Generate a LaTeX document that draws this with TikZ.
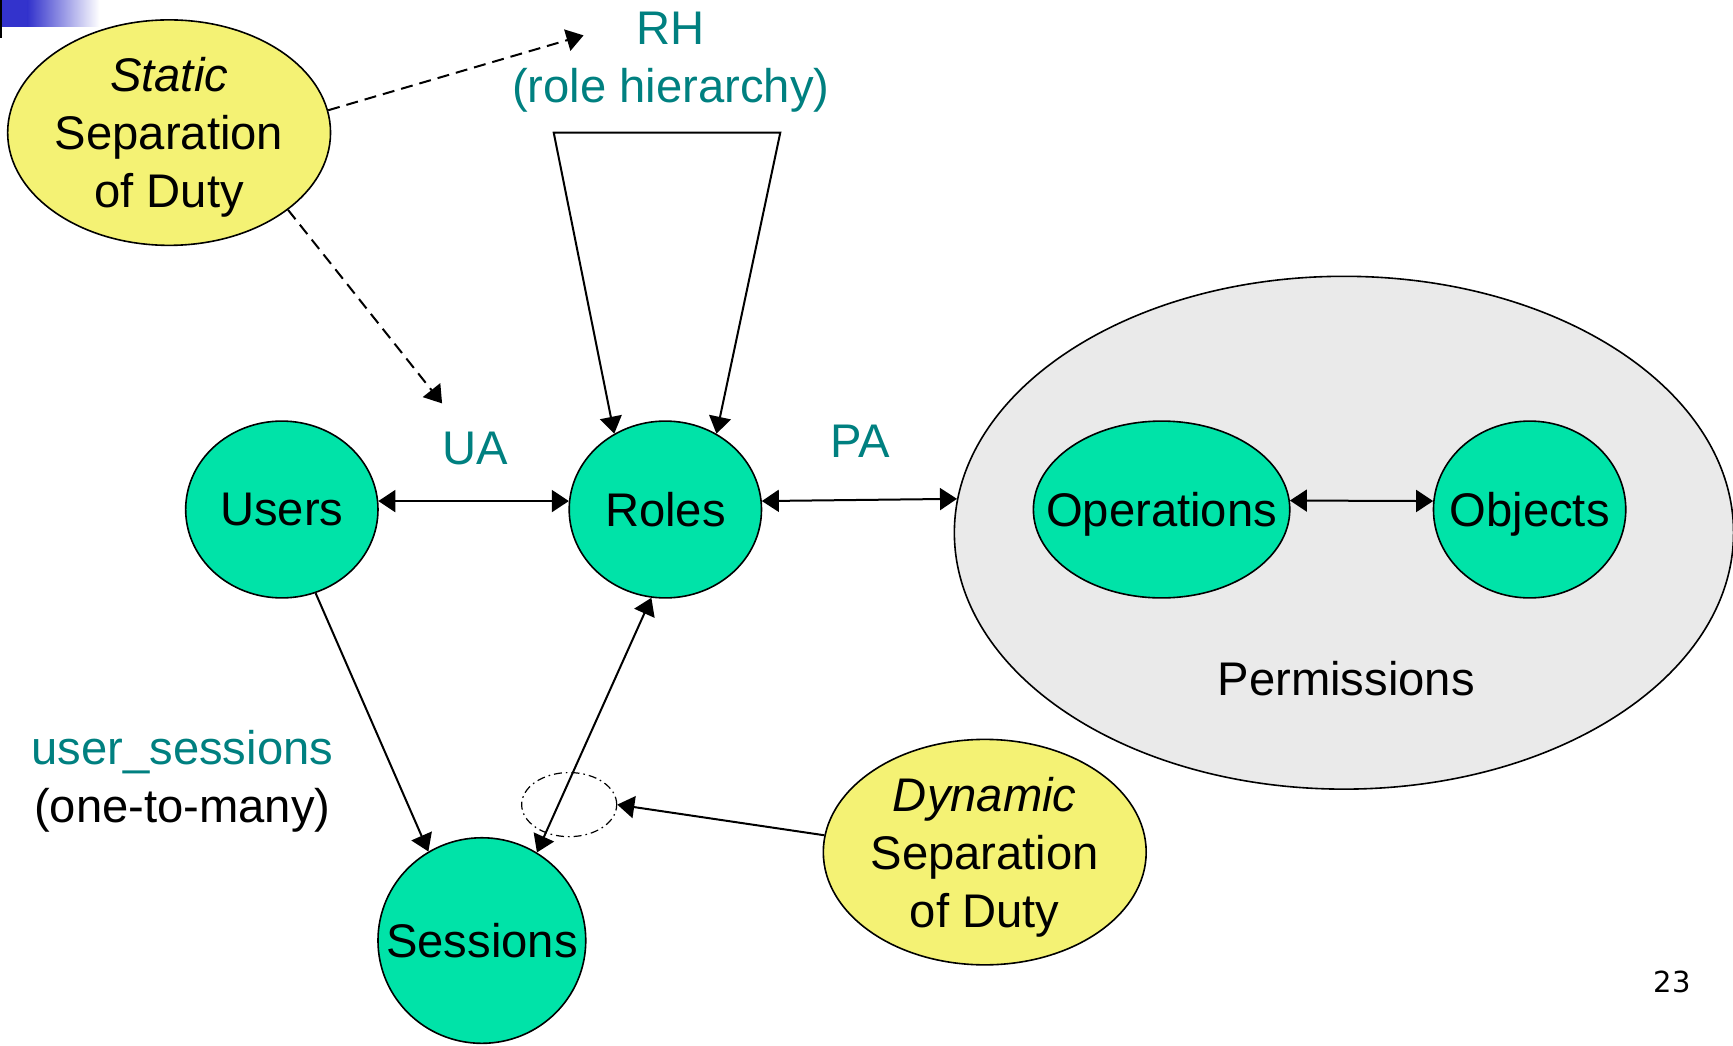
\documentclass[tikz,border=0pt]{standalone}
\usepackage{fontspec}
\setmainfont{Liberation Sans}
\newfontfamily\numfont{DejaVu Sans}
\usetikzlibrary{arrows.meta,shapes.geometric}
\tikzset{>={Triangle[width=11pt,length=8.5pt]}}
\definecolor{labelteal}{HTML}{008080}
\definecolor{rolegreen}{HTML}{00E3A8}
\definecolor{sodyellow}{HTML}{F4F274}
\definecolor{permgray}{HTML}{EAEAEA}
\definecolor{barblue}{HTML}{3333CC}
\newcommand{\TEAL}[1]{\textcolor{labelteal}{#1}}
\newcommand{\slidefont}{\fontsize{23.6}{29}\selectfont}
\tikzset{
  entity/.style={ellipse, draw, line width=0.8pt, fill=rolegreen, inner sep=0pt},
  sodbox/.style={ellipse, draw, line width=0.8pt, fill=sodyellow, inner sep=0pt,
                 align=center, text depth=0pt},
  every label/.append style={text depth=0pt},
  link/.style={line width=1pt},
  hint/.style={line width=1pt, dash pattern=on 6pt off 3.5pt},
}

\begin{document}
\begin{tikzpicture}[x=0.5526pt, y=-0.5526pt, font=\slidefont]

  \newcommand\U{0.5526pt}

  \useasboundingbox (0,0) rectangle (1568,946);

  %% slide corner
  \fill[barblue] (0,0) rectangle (25,24);
  \shade[left color=barblue, right color=white] (25,0) rectangle (90,24);
  \draw[line width=1pt] (0.8,0) -- (0.8,34);

  %% permissions
  \node[ellipse, draw, line width=0.8pt, fill=permgray,
        minimum width=705*\U, minimum height=464*\U] (perm) at (1216,482) {};
  \node (permlabel) at (1218,614) {Permissions};

  \node[entity, minimum width=174*\U, minimum height=160*\U,
        label=center:Users] (users) at (255,461) {};
  \node[entity, minimum width=174*\U, minimum height=160*\U,
        label=center:Roles] (roles) at (602,461) {};
  \node[entity, minimum width=188*\U, minimum height=186*\U,
        label=center:Sessions] (sessions) at (436,851) {};
  \node[entity, minimum width=232*\U, minimum height=160*\U,
        label=center:Operations] (ops) at (1051,461) {};
  \node[entity, minimum width=174*\U, minimum height=160*\U,
        label=center:Objects] (objs) at (1384,461) {};

  \node[sodbox, minimum width=290*\U, minimum height=204*\U] (ssd)
  at (153,120) {\textit{Static}\\Separation\\of Duty};
  \node[sodbox, minimum width=290*\U, minimum height=204*\U] (dsd)
  at (891,771) {\textit{Dynamic}\\Separation\\of Duty};

  \node[ellipse, draw, line width=0.6pt, inner sep=0pt,
        dash pattern=on 4pt off 2pt on 0.8pt off 2pt,
        minimum width=86*\U, minimum height=58*\U] (sel) at (515,728) {};

  %% labels
  \node[text=labelteal, align=center] (rh) at (607,56) {RH\\(role hierarchy)};
  \node[text=labelteal] (ua) at (430,406) {UA};
  \node[text=labelteal] (pa) at (778,399) {PA};
  \node[align=center] (usess) at (165,707) {\TEAL{user\_sessions}\\(one-to-many)};
  \node[font=\numfont\fontsize{14.5}{17}\selectfont] (pagenum) at (1513,888) {23};

  %% relations
  \draw[link,<->] (users.5) -- (roles.175);
  \draw[link,<->] (roles.5) -- (perm.175);
  \draw[link,<->] (ops.4) -- (objs.175);
  \draw[link,->] (users.-68) -- (sessions.121);
  \draw[link,<->] (sessions.58) -- (roles.-99);
  \draw[link,->] (dsd.174) -- (sel.east);

  \coordinate (rhleft) at (501,120);
  \coordinate (rhright) at (706,120);
  \draw[link,<->] (roles.124) -- (rhleft) -- (rhright) -- (roles.56);

  %% constraints
  \coordinate (rhtip) at (528,32);
  \coordinate (uatip) at (400,365);
  \draw[hint,->] (ssd.8) -- (rhtip);
  \draw[hint,->] (ssd.-33) -- (uatip);

\end{tikzpicture}
\end{document}
